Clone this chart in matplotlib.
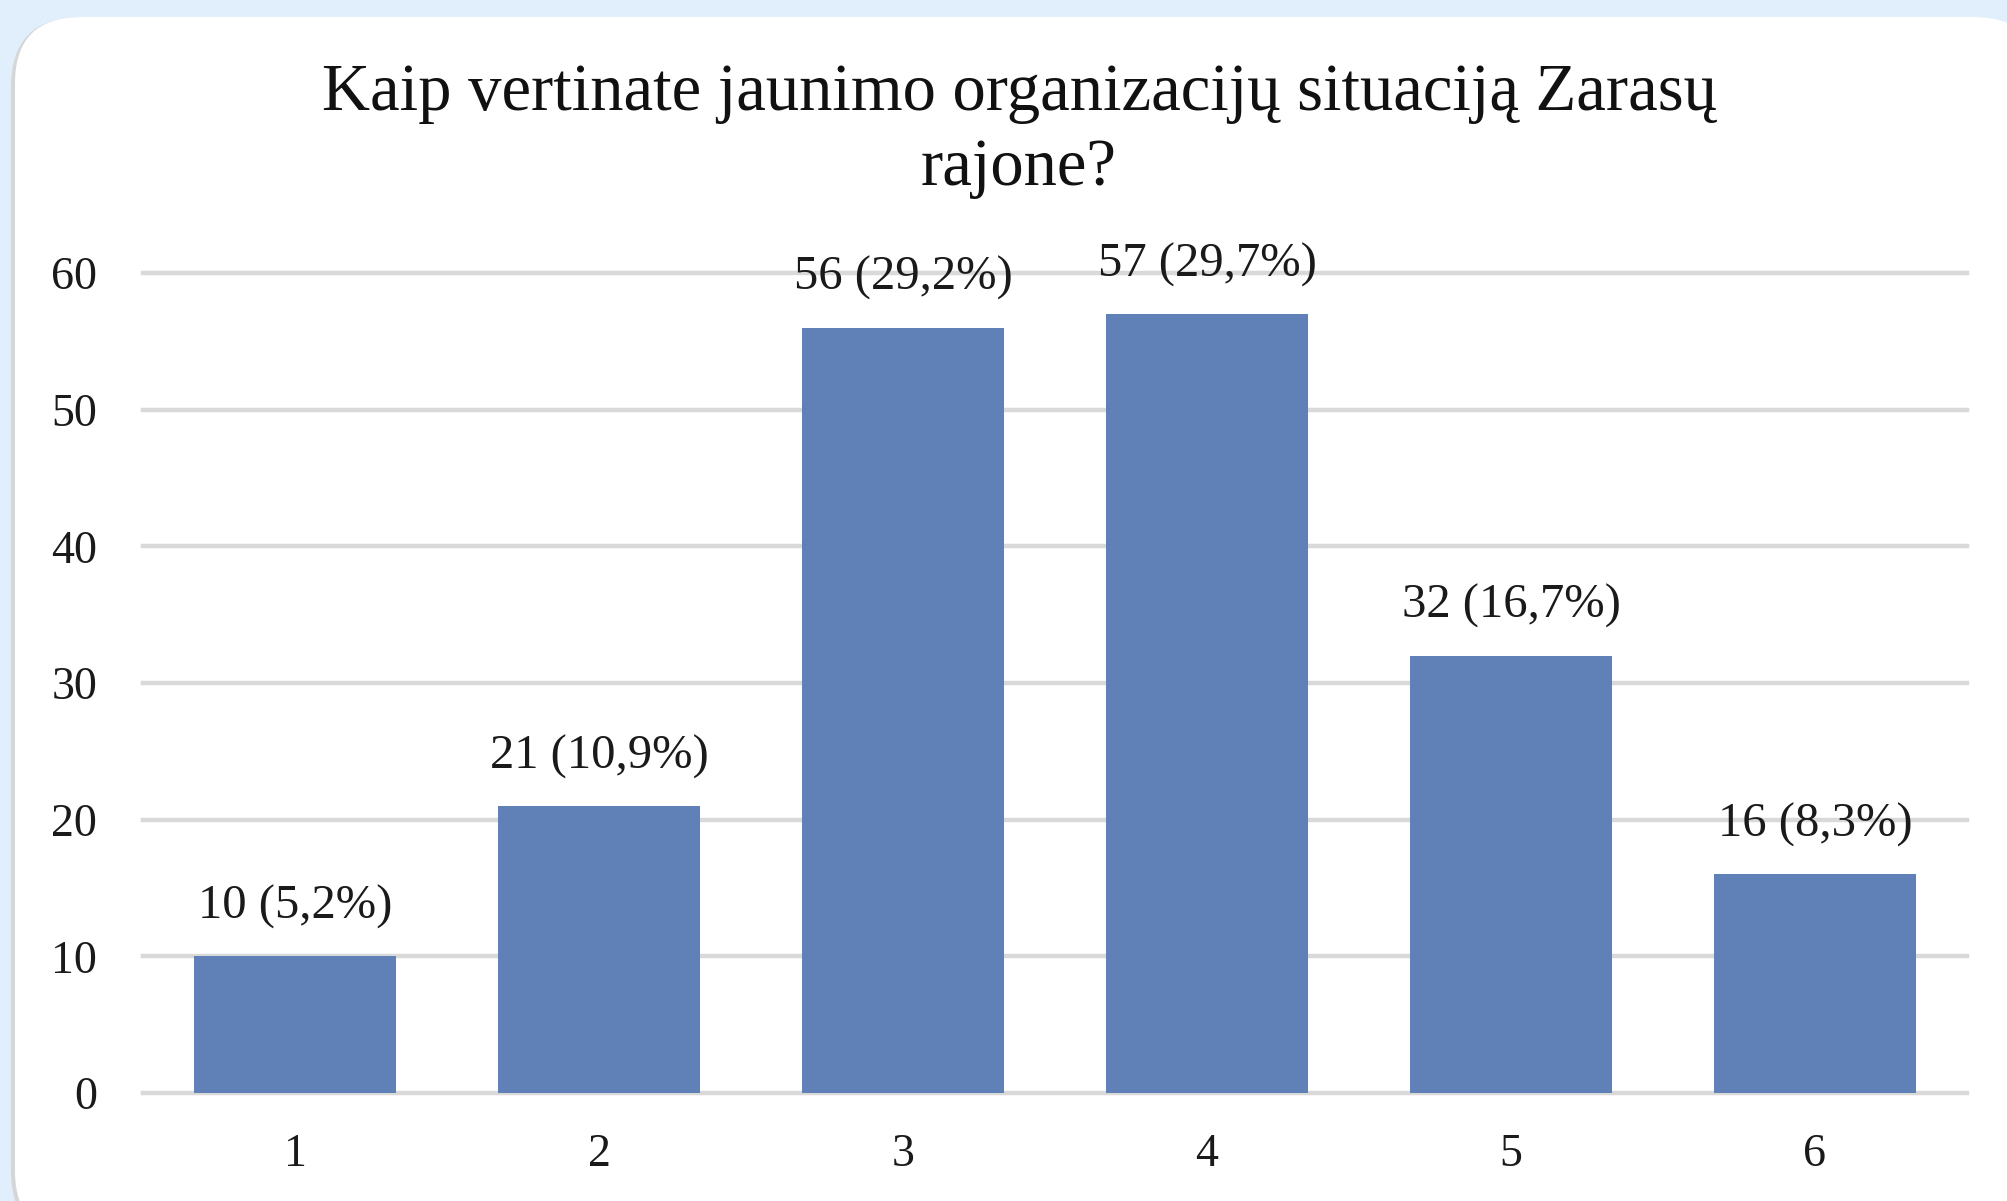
import matplotlib
matplotlib.use("Agg")
import matplotlib.pyplot as plt
from matplotlib.patches import FancyBboxPatch

### chart data
categories = ["1", "2", "3", "4", "5", "6"]
counts = [10, 21, 56, 57, 32, 16]
percents = ["5,2%", "10,9%", "29,2%", "29,7%", "16,7%", "8,3%"]
y_ticks = [0, 10, 20, 30, 40, 50, 60]
title = "Kaip vertinate jaunimo organizacijų situaciją Zarasų\nrajone?"

plt.rcParams['font.family'] = ['Liberation Serif', 'DejaVu Serif']

W, H = 2008, 1201
fig = plt.figure(figsize=(W / 100, H / 100), dpi=100)
fig.patch.set_facecolor('#E1EEFC')

### rounded white panel with a grey edge on the left
shadow = FancyBboxPatch((11 / W, -40 / H), (2040 - 11) / W, (1184 + 40) / H,
                        boxstyle="round,pad=0,rounding_size=0.035",
                        transform=fig.transFigure, facecolor='#D6D6D6',
                        edgecolor='none', mutation_aspect=W / H, zorder=-2)
panel = FancyBboxPatch((15 / W, -36 / H), (2040 - 15) / W, (1184 + 36) / H,
                       boxstyle="round,pad=0,rounding_size=0.033",
                       transform=fig.transFigure, facecolor='white',
                       edgecolor='none', mutation_aspect=W / H, zorder=-1)
fig.patches.extend([shadow, panel])

ax = fig.add_axes([143 / W, (H - 1093) / H, (1967 - 143) / W, (1093 - 273) / H])
ax.set_facecolor('none')

x = list(range(1, len(categories) + 1))
bars = ax.bar(x, counts, width=0.664, color='#5F81B7', zorder=3)

### value labels above bars
for xi, c, p in zip(x, counts, percents):
    ax.text(xi, c + 2.0, "%d (%s)" % (c, p), ha='center', va='bottom',
            fontsize=35, color='#1a1a1a', clip_on=False, zorder=4)

ax.set_xlim(0.5, 6.5)
ax.set_ylim(0, 60)
ax.set_xticks(x)
ax.set_xticklabels(categories)
ax.set_yticks(y_ticks)
ax.tick_params(axis='both', length=0, labelsize=33, colors='#1a1a1a')
ax.tick_params(axis='y', pad=33)
ax.tick_params(axis='x', pad=29)
ax.yaxis.grid(True, color='#D9D9D9', linewidth=3.2, zorder=0)
for s in ax.spines.values():
    s.set_visible(False)
for gl in ax.get_ygridlines():
    gl.set_clip_on(False)

fig.text(1019 / W, 1 - 63 / H, title, ha='center', va='top',
         fontsize=48, color='#111111', linespacing=1.3)

fig.savefig("out.png", dpi=100, facecolor=fig.get_facecolor())
